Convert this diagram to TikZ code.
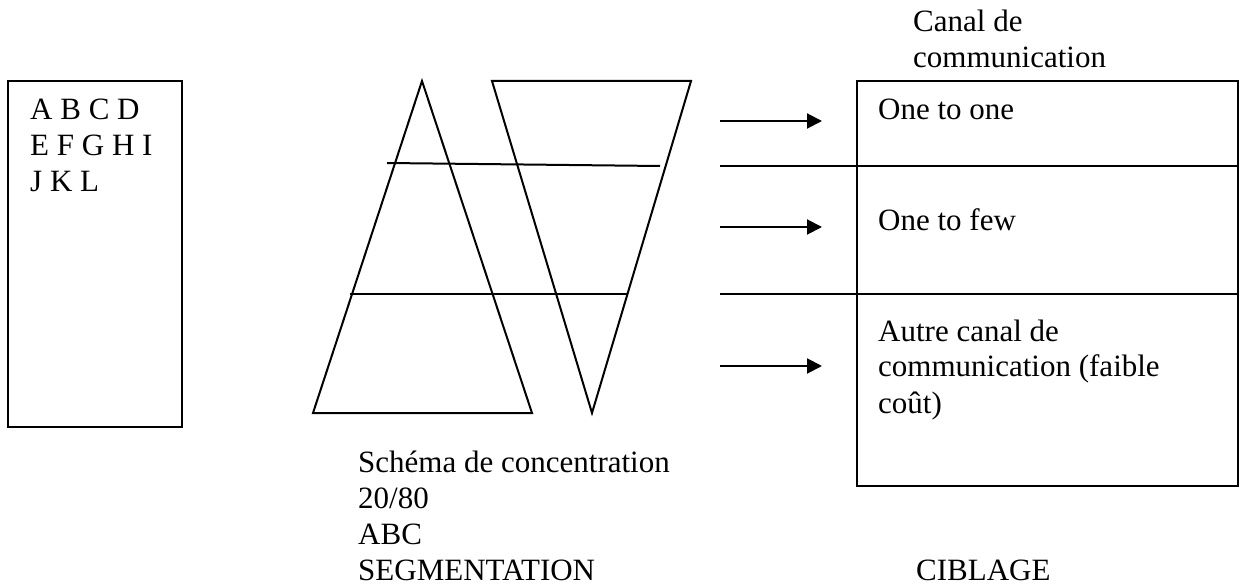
\documentclass[tikz,border=0pt]{standalone}
\usepackage{fontspec}
\setmainfont{Liberation Serif}
\usetikzlibrary{arrows.meta}
\begin{document}
\begin{tikzpicture}[x=1pt,y=-1pt,
  ln/.style={line width=2pt},
  txt/.style={inner sep=0pt,anchor=base west,align=left,font=\fontsize{31}{36}\selectfont},
  arr/.style={ln,-{Triangle[length=15pt,width=15pt]}}]
\useasboundingbox (0,0) rectangle (1240,585);
% left box
\draw[ln] (8,81) rectangle (182,427);
\node[txt] (abc) at (30,192) {A B C D\\E F G H I\\J K L};
% triangles
\coordinate (ta) at (422,81);
\coordinate (tl) at (313,413);
\coordinate (tr) at (532,413);
\draw[ln,line join=miter] (ta) -- (tl) -- (tr) -- cycle;
\coordinate (va) at (492,81);
\coordinate (vb) at (691,81);
\coordinate (vc) at (592,413);
\draw[ln,line join=miter] (va) -- (vb) -- (vc) -- cycle;
\coordinate (l1a) at (387,163);
\coordinate (l1b) at (660,166);
\draw[ln] (l1a) -- (l1b);
\coordinate (l2a) at (350,294);
\coordinate (l2b) at (627,294);
\draw[ln] (l2a) -- (l2b);
% captions (base anchor = last line's baseline)
\node[txt] (schema) at (358,580) {Schéma de concentration\\20/80\\ABC\\SEGMENTATION};
\node[txt] (canal) at (913,68) {Canal de\\communication};
\node[txt] (cib) at (916,580) {CIBLAGE};
% right box
\draw[ln] (857,81) rectangle (1238,486);
\coordinate (h1a) at (720,166);
\coordinate (h1b) at (1238,166);
\coordinate (h2a) at (720,294);
\coordinate (h2b) at (1238,294);
\draw[ln] (h1a) -- (h1b);
\draw[ln] (h2a) -- (h2b);
\node[txt] (one) at (878,120) {One to one};
\node[txt] (few) at (878,231) {One to few};
\node[txt] (autre) at (878,413) {Autre canal de\\communication (faible\\coût)};
% arrows
\coordinate (a1s) at (720,121);
\coordinate (a1e) at (822,121);
\coordinate (a2s) at (720,227);
\coordinate (a2e) at (822,227);
\coordinate (a3s) at (720,366);
\coordinate (a3e) at (822,366);
\draw[arr] (a1s) -- (a1e);
\draw[arr] (a2s) -- (a2e);
\draw[arr] (a3s) -- (a3e);
\end{tikzpicture}
\end{document}
